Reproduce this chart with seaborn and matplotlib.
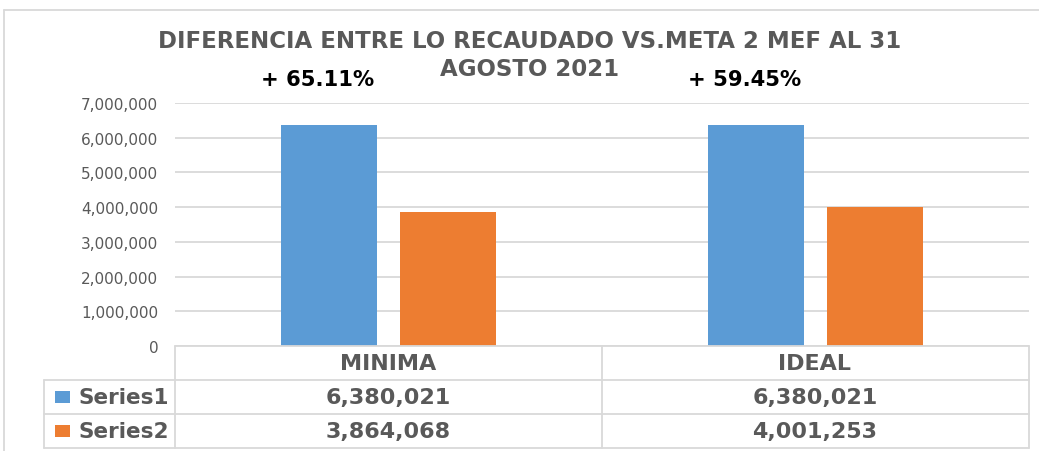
import numpy as np
import pandas as pd
import matplotlib
matplotlib.use('Agg')
import matplotlib.pyplot as plt
from matplotlib.transforms import blended_transform_factory
import seaborn as sns

# ----------------------------------------------------
# Data
# ----------------------------------------------------
categorias = ['MINIMA', 'IDEAL']
series_nombres = ['Series1', 'Series2']
series1 = [6380021, 6380021]
series2 = [3864068, 4001253]
etiquetas_pct = ['+ 65.11%', '+ 59.45%']
y_ticks = [0, 1000000, 2000000, 3000000, 4000000, 5000000, 6000000, 7000000]
titulo = ['DIFERENCIA ENTRE LO RECAUDADO VS.META 2 MEF AL 31', 'AGOSTO 2021']

colores = ['#5B9BD5', '#ED7D31']
gris = '#595959'
linea = '#D9D9D9'

df = pd.DataFrame({
    'categoria': categorias * 2,
    'serie': [series_nombres[0]] * 2 + [series_nombres[1]] * 2,
    'valor': series1 + series2,
})

sns.set_theme(style='white')
plt.rcParams['font.family'] = ['DejaVu Sans']

W, H = 1039, 452
fig = plt.figure(figsize=(W / 100, H / 100), dpi=100)

# axes box in pixels: left 175, right 1029, top 104, bottom 347
ax = fig.add_axes([175 / W, (H - 347) / H, (1029 - 175) / W, (347 - 104) / H])

sns.barplot(data=df, x='categoria', y='valor', hue='serie', order=categorias,
            hue_order=series_nombres, palette=colores, saturation=1,
            width=0.56, gap=0.2, linewidth=0, legend=False, ax=ax)

ax.set_ylim(0, 7000000)
ax.set_xlim(-0.5, 1.5)
ax.set_yticks(y_ticks)
ax.set_yticklabels([f'{t:,}' for t in y_ticks], fontsize=11, color=gris)
ax.set_xticks([])
ax.set_xlabel('')
ax.set_ylabel('')
ax.tick_params(axis='y', length=0, pad=12)
ax.yaxis.grid(True, color=linea, linewidth=1.3)
ax.set_axisbelow(True)
for s in ax.spines.values():
    s.set_visible(False)

# percentage labels above the plot
tr = blended_transform_factory(ax.transData, ax.transAxes)
for i, txt in enumerate(etiquetas_pct):
    ax.text(i - 0.165, 1.099, txt, transform=tr, ha='center', va='center',
            fontsize=15.2, fontweight='bold', color='black', clip_on=False)

# title, two lines
for yy, linea_txt in zip([41, 70], titulo):
    fig.text(530 / W, 1 - yy / H, linea_txt, ha='center', va='center',
             fontsize=16.5, fontweight='bold', color=gris)

# ----------------------------------------------------
# Data table under the chart (overlay in pixel coords)
# ----------------------------------------------------
ov = fig.add_axes([0, 0, 1, 1], zorder=5)
ov.set_xlim(0, W)
ov.set_ylim(H, 0)
ov.axis('off')
ov.patch.set_alpha(0)

lw = 1.3
# chart outer border (top / left)
ov.plot([4, W], [11, 11], color=linea, lw=lw)
ov.plot([4, 4], [11, H], color=linea, lw=lw)

ov.plot([175, 1029], [347, 347], color=linea, lw=lw)
for yy in [381, 415, 449]:
    ov.plot([44, 1029], [yy, yy], color=linea, lw=lw)
ov.plot([44, 44], [381, 449], color=linea, lw=lw)
for xx in [175, 602, 1029]:
    ov.plot([xx, xx], [347, 449], color=linea, lw=lw)

col_x = [388, 815]
for cx, cat in zip(col_x, categorias):
    ov.text(cx, 364, cat, ha='center', va='center', fontsize=16,
            fontweight='bold', color=gris)

filas = [series1, series2]
for r, (nombre, vals, c) in enumerate(zip(series_nombres, filas, colores)):
    yc = 398 + r * 34
    ov.add_patch(plt.Rectangle((55, yc - 6), 15, 12, color=c, lw=0))
    ov.text(79, yc, nombre, ha='left', va='center', fontsize=15.5,
            fontweight='bold', color=gris)
    for cx, v in zip(col_x, vals):
        ov.text(cx, yc, f'{v:,}', ha='center', va='center', fontsize=16,
                fontweight='bold', color=gris)

fig.savefig('out.png', dpi=100)
